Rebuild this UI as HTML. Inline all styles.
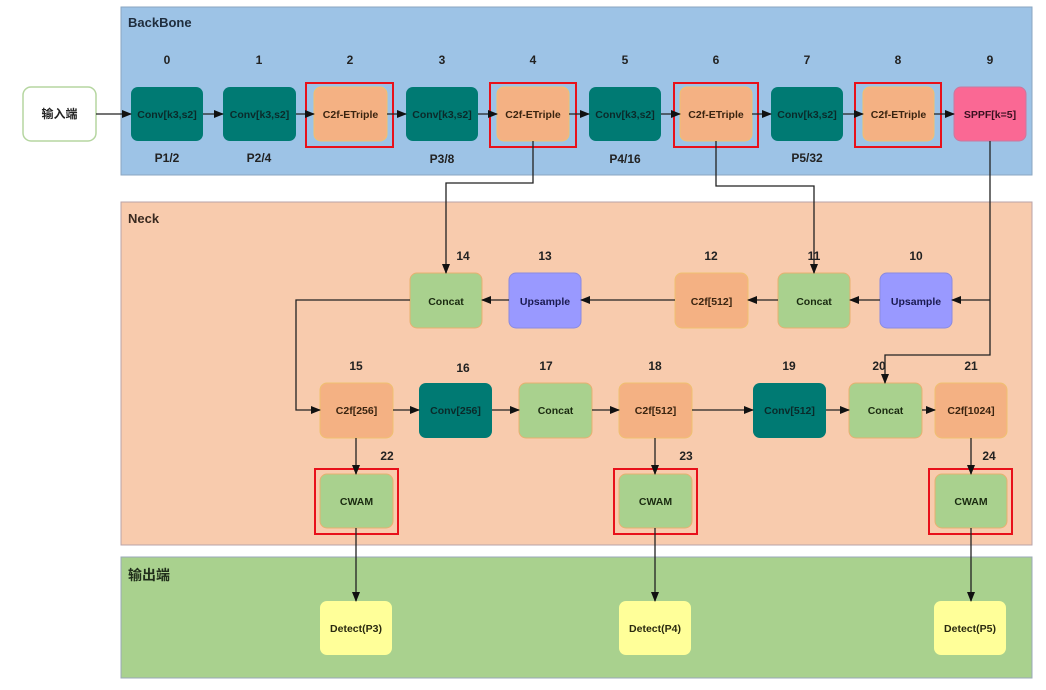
<!DOCTYPE html>
<html><head><meta charset="utf-8"><style>
html,body{margin:0;padding:0;background:#fff;}
svg{display:block;}
text{font-family:"Liberation Sans","Noto Sans CJK SC",sans-serif;font-weight:bold;}
</style></head><body>
<svg width="1046" height="690" viewBox="0 0 1046 690" xmlns="http://www.w3.org/2000/svg">
<defs>
<marker id="a" markerWidth="10" markerHeight="8" refX="9" refY="4" orient="auto" markerUnits="userSpaceOnUse">
<path d="M0,0 L10,4 L0,8 z" fill="#111"/></marker>
</defs>
<!-- panels -->
<rect x="121" y="7" width="911" height="168" fill="#9dc3e6" stroke="#8aa6c0"/>
<rect x="121" y="202" width="911" height="343" fill="#f8cbad" stroke="#b9a3a8"/>
<rect x="121" y="557" width="911" height="121" fill="#a9d18e" stroke="#9aa8b8"/>
<text x="128" y="27" font-size="13" fill="#1f2d3d">BackBone</text>
<text x="128" y="223" font-size="13" fill="#3a2a20">Neck</text>
<text x="128" y="580" font-size="14" fill="#1f2d1a">输出端</text>

<!-- input -->
<rect x="23" y="87" width="73" height="54" rx="8" fill="#fff" stroke="#b5d6a0" stroke-width="1.5"/>
<text x="59.5" y="118" font-size="12" text-anchor="middle" fill="#222">输入端</text>

<g font-size="10.5" text-anchor="middle">
<!-- backbone nodes -->
<rect x="131" y="87" width="72" height="54" rx="7" fill="#007a73"/>
<text x="167" y="118" fill="#0a2a2a">Conv[k3,s2]</text>
<rect x="223" y="87" width="73" height="54" rx="7" fill="#007a73"/>
<text x="259.5" y="118" fill="#0a2a2a">Conv[k3,s2]</text>
<rect x="314" y="87" width="73" height="54" rx="7" fill="#f4b183" stroke="#f0c070"/>
<text x="350.5" y="118" fill="#3a2410">C2f-ETriple</text>
<rect x="406" y="87" width="72" height="54" rx="7" fill="#007a73"/>
<text x="442" y="118" fill="#0a2a2a">Conv[k3,s2]</text>
<rect x="497" y="87" width="72" height="54" rx="7" fill="#f4b183" stroke="#f0c070"/>
<text x="533" y="118" fill="#3a2410">C2f-ETriple</text>
<rect x="589" y="87" width="72" height="54" rx="7" fill="#007a73"/>
<text x="625" y="118" fill="#0a2a2a">Conv[k3,s2]</text>
<rect x="680" y="87" width="72" height="54" rx="7" fill="#f4b183" stroke="#f0c070"/>
<text x="716" y="118" fill="#3a2410">C2f-ETriple</text>
<rect x="771" y="87" width="72" height="54" rx="7" fill="#007a73"/>
<text x="807" y="118" fill="#0a2a2a">Conv[k3,s2]</text>
<rect x="863" y="87" width="71" height="54" rx="7" fill="#f4b183" stroke="#f0c070"/>
<text x="898.5" y="118" fill="#3a2410">C2f-ETriple</text>
<rect x="954" y="87" width="72" height="54" rx="7" fill="#fa6894" stroke="#c77aa0"/>
<text x="990" y="118" fill="#3a1020">SPPF[k=5]</text>

<!-- neck row 1 -->
<rect x="410" y="273" width="72" height="55" rx="7" fill="#a9d18e" stroke="#e8b070"/>
<text x="446" y="305" fill="#1a2a10">Concat</text>
<rect x="509" y="273" width="72" height="55" rx="7" fill="#9999ff" stroke="#8a8ae0"/>
<text x="545" y="305" fill="#1a1a50">Upsample</text>
<rect x="675" y="273" width="73" height="55" rx="7" fill="#f4b183" stroke="#f0c070"/>
<text x="711.5" y="305" fill="#3a2410">C2f[512]</text>
<rect x="778" y="273" width="72" height="55" rx="7" fill="#a9d18e" stroke="#e8b070"/>
<text x="814" y="305" fill="#1a2a10">Concat</text>
<rect x="880" y="273" width="72" height="55" rx="7" fill="#9999ff" stroke="#8a8ae0"/>
<text x="916" y="305" fill="#1a1a50">Upsample</text>

<!-- neck row 2 -->
<rect x="320" y="383" width="73" height="55" rx="7" fill="#f4b183" stroke="#f0c070"/>
<text x="356.5" y="414" fill="#3a2410">C2f[256]</text>
<rect x="419" y="383" width="73" height="55" rx="7" fill="#007a73"/>
<text x="455.5" y="414" fill="#0a2a2a">Conv[256]</text>
<rect x="519" y="383" width="73" height="55" rx="7" fill="#a9d18e" stroke="#e8b070"/>
<text x="555.5" y="414" fill="#1a2a10">Concat</text>
<rect x="619" y="383" width="73" height="55" rx="7" fill="#f4b183" stroke="#f0c070"/>
<text x="655.5" y="414" fill="#3a2410">C2f[512]</text>
<rect x="753" y="383" width="73" height="55" rx="7" fill="#007a73"/>
<text x="789.5" y="414" fill="#0a2a2a">Conv[512]</text>
<rect x="849" y="383" width="73" height="55" rx="7" fill="#a9d18e" stroke="#e8b070"/>
<text x="885.5" y="414" fill="#1a2a10">Concat</text>
<rect x="935" y="383" width="72" height="55" rx="7" fill="#f4b183" stroke="#f0c070"/>
<text x="971" y="414" fill="#3a2410">C2f[1024]</text>

<!-- CWAM -->
<rect x="320" y="474" width="73" height="54" rx="7" fill="#a9d18e" stroke="#e8b070"/>
<text x="356.5" y="505" fill="#1a2a10">CWAM</text>
<rect x="619" y="474" width="73" height="54" rx="7" fill="#a9d18e" stroke="#e8b070"/>
<text x="655.5" y="505" fill="#1a2a10">CWAM</text>
<rect x="935" y="474" width="72" height="54" rx="7" fill="#a9d18e" stroke="#e8b070"/>
<text x="971" y="505" fill="#1a2a10">CWAM</text>

<!-- Detect -->
<rect x="320" y="601" width="72" height="54" rx="7" fill="#ffff99"/>
<text x="356" y="632" fill="#2a2a10">Detect(P3)</text>
<rect x="619" y="601" width="72" height="54" rx="7" fill="#ffff99"/>
<text x="655" y="632" fill="#2a2a10">Detect(P4)</text>
<rect x="934" y="601" width="72" height="54" rx="7" fill="#ffff99"/>
<text x="970" y="632" fill="#2a2a10">Detect(P5)</text>
</g>

<!-- red highlight boxes -->
<g fill="none" stroke="#e8101a" stroke-width="2">
<rect x="306" y="83" width="87" height="64"/>
<rect x="490" y="83" width="86" height="64"/>
<rect x="674" y="83" width="84" height="64"/>
<rect x="855" y="83" width="86" height="64"/>
<rect x="315" y="469" width="83" height="65"/>
<rect x="614" y="469" width="83" height="65"/>
<rect x="929" y="469" width="83" height="65"/>
</g>

<!-- index labels -->
<g font-size="12" text-anchor="middle" fill="#222">
<text x="167" y="64">0</text><text x="259" y="64">1</text><text x="350" y="64">2</text>
<text x="442" y="64">3</text><text x="533" y="64">4</text><text x="625" y="64">5</text>
<text x="716" y="64">6</text><text x="807" y="64">7</text><text x="898" y="64">8</text>
<text x="990" y="64">9</text>
<text x="167" y="162">P1/2</text><text x="259" y="162">P2/4</text><text x="442" y="163">P3/8</text>
<text x="625" y="163">P4/16</text><text x="807" y="162">P5/32</text>
<text x="463" y="260">14</text><text x="545" y="260">13</text><text x="711" y="260">12</text>
<text x="814" y="260">11</text><text x="916" y="260">10</text>
<text x="356" y="370">15</text><text x="463" y="372">16</text><text x="546" y="370">17</text>
<text x="655" y="370">18</text><text x="789" y="370">19</text><text x="879" y="370">20</text>
<text x="971" y="370">21</text>
<text x="387" y="460">22</text><text x="686" y="460">23</text><text x="989" y="460">24</text>
</g>

<!-- connectors -->
<g fill="none" stroke="#222" stroke-width="1.3" marker-end="url(#a)">
<path d="M96 114 H131"/>
<path d="M203 114 H223"/>
<path d="M296 114 H314"/>
<path d="M387 114 H406"/>
<path d="M478 114 H497"/>
<path d="M569 114 H589"/>
<path d="M661 114 H680"/>
<path d="M752 114 H771"/>
<path d="M843 114 H863"/>
<path d="M934 114 H954"/>
<path d="M533 141 V183 H446 V273"/>
<path d="M716 141 V186 H814 V273"/>
<path d="M990 141 V355 H885 V383"/>
<path d="M990 300 H952"/>
<path d="M880 300 H850"/>
<path d="M778 300 H748"/>
<path d="M675 300 H581"/>
<path d="M509 300 H482"/>
<path d="M410 300 H296 V410 H320"/>
<path d="M393 410 H419"/>
<path d="M492 410 H519"/>
<path d="M592 410 H619"/>
<path d="M692 410 H753"/>
<path d="M826 410 H849"/>
<path d="M922 410 H935"/>
<path d="M356 438 V474"/>
<path d="M655 438 V474"/>
<path d="M971 438 V474"/>
<path d="M356 528 V601"/>
<path d="M655 528 V601"/>
<path d="M971 528 V601"/>
</g>
</svg>
</body></html>
